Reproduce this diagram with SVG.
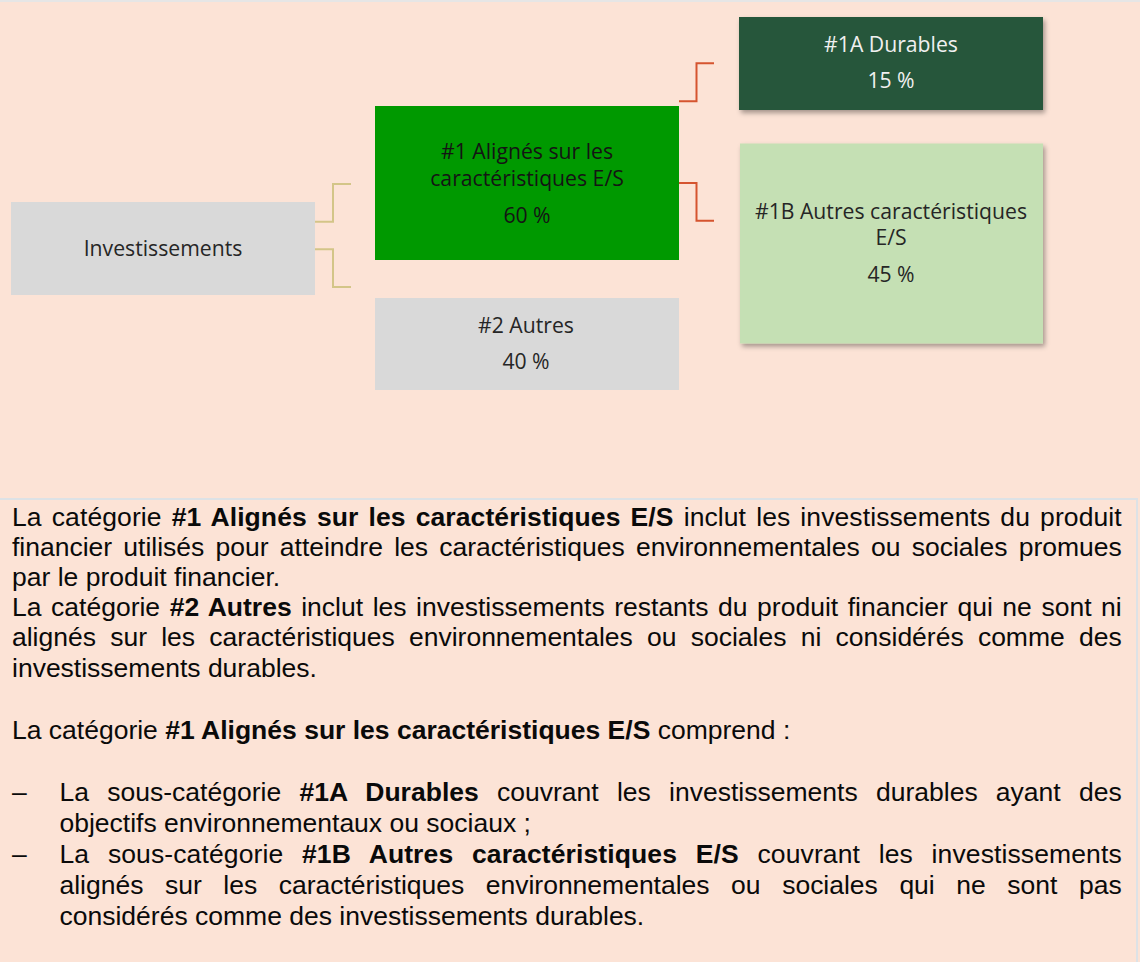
<svg xmlns="http://www.w3.org/2000/svg" width="1140" height="962" viewBox="0 0 1140 962">
  <defs>
    <filter id="shadow" x="-10%" y="-10%" width="125%" height="130%">
      <feDropShadow dx="2" dy="3" stdDeviation="2.5" flood-color="#000" flood-opacity="0.35"/>
    </filter>
  </defs>
  <style>
    .box-text { font-family: "Open Sans", "Noto Sans", sans-serif; font-size: 21.2px; text-anchor: middle; fill: #262626; }
    .light { fill: #f0f0f0; }
    .body { font-family: "Liberation Sans", Arial, sans-serif; font-size: 26.5px; fill: #0a0a0a; }
    .b { font-weight: bold; }
    .tan { fill: none; stroke: #D3C588; stroke-width: 2; }
    .red { fill: none; stroke: #D5542F; stroke-width: 2; }
  </style>

  <rect x="0" y="0" width="1140" height="962" fill="#FCE3D6"/>
  <rect x="0" y="0" width="1140" height="2" fill="#E6E6E6"/>
  <rect x="0" y="498" width="1138" height="2" fill="#DDE2E6"/>
  <rect x="1136" y="498" width="2" height="464" fill="#DDE2E6"/>

  <g id="connectors">
    <path class="tan" d="M315,221.7 H333 V184 H351"/>
    <path class="tan" d="M315,249.3 H333 V287 H351"/>
    <path class="red" d="M679,101.3 H696.5 V63.3 H714"/>
    <path class="red" d="M679,183 H696.5 V220.7 H714"/>
  </g>

  <g id="investissements">
    <rect x="11" y="202" width="304" height="93" fill="#D9D9D9"/>
    <text class="box-text" x="163" y="256">Investissements</text>
  </g>

  <g id="n1">
    <rect x="375" y="106" width="304" height="154" fill="#009900"/>
    <text class="box-text" x="527" y="159.3" style="fill:#141414">#1 Alignés sur les</text>
    <text class="box-text" x="527" y="185.7" style="fill:#141414">caractéristiques E/S</text>
    <text class="box-text" x="527" y="222.7" style="fill:#141414">60 %</text>
  </g>

  <g id="n2">
    <rect x="375" y="298" width="304" height="92" fill="#D9D9D9"/>
    <text class="box-text" x="526" y="333.3">#2 Autres</text>
    <text class="box-text" x="526" y="369.3">40 %</text>
  </g>

  <g id="n1a">
    <rect x="739" y="17" width="304" height="93" fill="#27573B" filter="url(#shadow)"/>
    <text class="box-text light" x="891" y="52.3">#1A Durables</text>
    <text class="box-text light" x="891" y="88.3">15 %</text>
  </g>

  <g id="n1b">
    <rect x="740" y="143.5" width="303" height="200" fill="#C5E0B4" filter="url(#shadow)"/>
    <text class="box-text" x="891" y="218.8">#1B Autres caractéristiques</text>
    <text class="box-text" x="891" y="245.2">E/S</text>
    <text class="box-text" x="891" y="281.7">45 %</text>
  </g>

  <g id="description">
    <text class="body" x="12" y="525.5" word-spacing="2.61" textLength="1109.7" lengthAdjust="spacing">La catégorie <tspan class="b">#1 Alignés sur les caractéristiques E/S</tspan> inclut les investissements du produit</text>
    <text class="body" x="12" y="555.7" word-spacing="3.93" textLength="1109.7" lengthAdjust="spacing">financier utilisés pour atteindre les caractéristiques environnementales ou sociales promues</text>
    <text class="body" x="12" y="585.9">par le produit financier.</text>
    <text class="body" x="12" y="616.1" word-spacing="2.17" textLength="1109.7" lengthAdjust="spacing">La catégorie <tspan class="b">#2 Autres</tspan> inclut les investissements restants du produit financier qui ne sont ni</text>
    <text class="body" x="12" y="646.3" word-spacing="6.93" textLength="1109.7" lengthAdjust="spacing">alignés sur les caractéristiques environnementales ou sociales ni considérés comme des</text>
    <text class="body" x="12" y="676.5">investissements durables.</text>

    <text class="body" x="12" y="739">La catégorie <tspan class="b">#1 Alignés sur les caractéristiques E/S</tspan> comprend :</text>

    <text class="body" x="12" y="801">–</text>
    <text class="body" x="59.5" y="801" word-spacing="10.83" textLength="1062.2" lengthAdjust="spacing">La sous-catégorie <tspan class="b">#1A Durables</tspan> couvrant les investissements durables ayant des</text>
    <text class="body" x="59.5" y="832">objectifs environnementaux ou sociaux ;</text>
    <text class="body" x="12" y="863">–</text>
    <text class="body" x="59.5" y="863" word-spacing="11.2" textLength="1062.2" lengthAdjust="spacing">La sous-catégorie <tspan class="b">#1B Autres caractéristiques E/S</tspan> couvrant les investissements</text>
    <text class="body" x="59.5" y="894" word-spacing="14.22" textLength="1062.2" lengthAdjust="spacing">alignés sur les caractéristiques environnementales ou sociales qui ne sont pas</text>
    <text class="body" x="59.5" y="925">considérés comme des investissements durables.</text>
  </g>
</svg>
